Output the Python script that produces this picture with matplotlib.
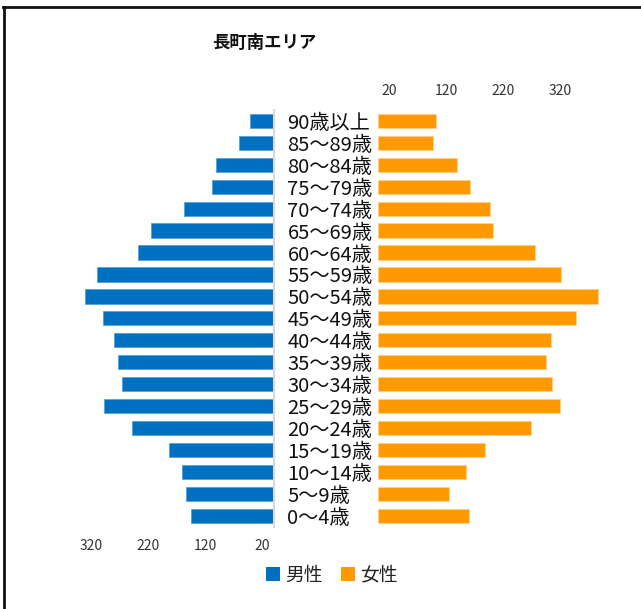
import numpy as np
import matplotlib.pyplot as plt
from matplotlib.patches import Patch
from matplotlib.lines import Line2D

plt.rcParams['font.family'] = ['Noto Sans CJK JP', 'DejaVu Sans']

# 年齢階級（下から上へ）
ages = ['0～4歳', '5～9歳', '10～14歳', '15～19歳', '20～24歳', '25～29歳',
        '30～34歳', '35～39歳', '40～44歳', '45～49歳', '50～54歳', '55～59歳',
        '60～64歳', '65～69歳', '70～74歳', '75～79歳', '80～84歳', '85～89歳',
        '90歳以上']
male = [145, 154, 160, 184, 248, 298, 266, 274, 280, 300, 332, 311,
        238, 216, 158, 108, 101, 60, 42]
female = [160, 125, 155, 188, 269, 320, 306, 295, 304, 348, 387, 322,
          276, 202, 198, 163, 139, 98, 102]
tick_vals = [20, 120, 220, 320]

blue = '#0070C0'
orange = '#FF9900'

W, H = 641, 609
fig = plt.figure(figsize=(W / 100, H / 100), dpi=100)

y = np.arange(len(ages))
bot = 1 - 526.7 / H
hgt = (526.7 - 110) / H

# 男性（左）
axl = fig.add_axes([80 / W, bot, 193.5 / W, hgt])
axl.barh(y, male, height=0.65, color=blue, edgecolor='#5aa0d8', linewidth=0.6)
axl.set_xlim(340, 0)
axl.set_ylim(-0.5, len(ages) - 0.5)
axl.set_xticks(tick_vals)
axl.tick_params(axis='x', length=0, pad=8.5, labelsize=10, labelcolor='#333333')
axl.yaxis.tick_right()
axl.set_yticks(y)
axl.set_yticklabels(ages, ha='left', fontsize=14.5, color='#111111')
axl.tick_params(axis='y', length=0, pad=10)
for s in ['left', 'top', 'bottom']:
    axl.spines[s].set_visible(False)
axl.spines['right'].set_color('#d9d9d9')
axl.spines['right'].set_linewidth(1.5)

# 女性（右）
axr = fig.add_axes([377.5 / W, bot, 228 / W, hgt])
axr.barh(y, female, height=0.65, color=orange, edgecolor='#ffd08a', linewidth=0.6)
axr.set_xlim(0, 400)
axr.set_ylim(-0.5, len(ages) - 0.5)
axr.xaxis.tick_top()
axr.set_xticks(tick_vals)
axr.tick_params(axis='x', length=0, pad=8.5, labelsize=10, labelcolor='#333333')
axr.set_yticks([])
for s in axr.spines.values():
    s.set_visible(False)

fig.text(264 / W, 1 - 43 / H, '長町南エリア', ha='center', va='center',
         fontsize=12.5, fontweight='bold', color='#111111')

handles = [Patch(facecolor=blue, label='男性'), Patch(facecolor=orange, label='女性')]
fig.legend(handles=handles, loc='center', bbox_to_anchor=(332 / W, 1 - 575 / H),
           ncol=2, frameon=False, fontsize=13.5, handlelength=0.7, handleheight=0.7,
           handletextpad=0.3, columnspacing=1.0, labelcolor='#222222')

# 外枠（上と左）
fig.add_artist(Line2D([3 / W, 1], [1 - 7 / H, 1 - 7 / H], color='#111111', lw=2))
fig.add_artist(Line2D([4 / W, 4 / W], [0, 1 - 7 / H], color='#111111', lw=2))

fig.savefig('out.png', dpi=100)
